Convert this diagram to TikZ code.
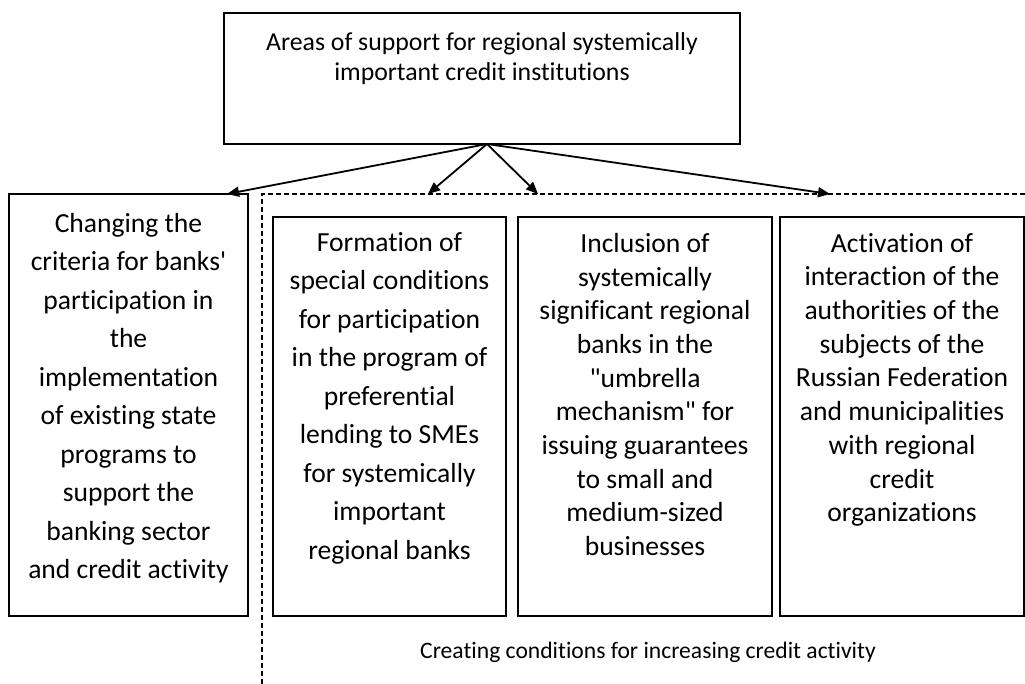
\documentclass[tikz,border=0pt]{standalone}
\usepackage{fontspec}
\newfontfamily\calib{Carlito}[Ligatures={NoCommon}]
\usetikzlibrary{arrows.meta}
\begin{document}
\begin{tikzpicture}[x=1pt,y=-1pt,
  box/.style={draw=black, line width=1.3pt, inner sep=0pt},
  bigtxt/.style={inner sep=0pt, align=center, anchor=north, font=\calib\fontsize{27.6pt}{38.5pt}\selectfont},
  midtxt/.style={inner sep=0pt, align=center, anchor=north, font=\calib\fontsize{27.6pt}{33.7pt}\selectfont},
  toptxt/.style={inner sep=0pt, align=center, anchor=north, font=\calib\fontsize{25.8pt}{30.5pt}\selectfont},
  captxt/.style={inner sep=0pt, font=\calib\fontsize{23.6pt}{28pt}\selectfont},
  arr/.style={line width=1.8pt, -{Triangle[length=12pt,width=10pt]}},
  grp/.style={line width=1.1pt, dash pattern=on 5pt off 3pt}
]
\useasboundingbox (0,0) rectangle (1025,684);

% boxes
\node[box, minimum width=516pt, minimum height=131pt] (top) at (482,78.5) {};
\node[box, minimum width=239pt, minimum height=422pt] (left) at (128.5,405) {};
\node[box, minimum width=233pt, minimum height=399pt] (b2) at (389.5,416.5) {};
\node[box, minimum width=254pt, minimum height=399pt] (b3) at (645,416.5) {};
\node[box, minimum width=244pt, minimum height=399pt] (b4) at (902,416.5) {};

% texts
\node[toptxt] (ttop) at (482,32) {Areas of support for regional systemically\\important credit institutions};
\node[bigtxt] (tleft) at (128.5,213) {Changing the\\criteria for banks'\\participation in\\the\\implementation\\of existing state\\programs to\\support the\\banking sector\\and credit activity};
\node[bigtxt] (tb2) at (389.5,232) {Formation of\\special conditions\\for participation\\in the program of\\preferential\\lending to SMEs\\for systemically\\important\\regional banks};
\node[midtxt] (tb3) at (645,233) {Inclusion of\\systemically\\significant regional\\banks in the\\"umbrella\\mechanism" for\\issuing guarantees\\to small and\\medium-sized\\businesses};
\node[midtxt] (tb4) at (902,233) {Activation of\\interaction of the\\authorities of the\\subjects of the\\Russian Federation\\and municipalities\\with regional\\credit\\organizations};
\node[captxt] (cap) at (648,652) {Creating conditions for increasing credit activity};

% dashed group outline
\coordinate (gbl) at (262,684);
\coordinate (gtl) at (262,194);
\coordinate (gtr) at (1025,194);
\draw[grp] (gbl) -- (gtl) -- (gtr);

% arrows
\coordinate (apex) at (487,144);
\coordinate (e1) at (227,194);
\coordinate (e2) at (428,194);
\coordinate (e3) at (538,194);
\coordinate (e4) at (830,194);
\draw[arr] (apex) -- (e1);
\draw[arr] (apex) -- (e2);
\draw[arr] (apex) -- (e3);
\draw[arr] (apex) -- (e4);
\end{tikzpicture}
\end{document}
